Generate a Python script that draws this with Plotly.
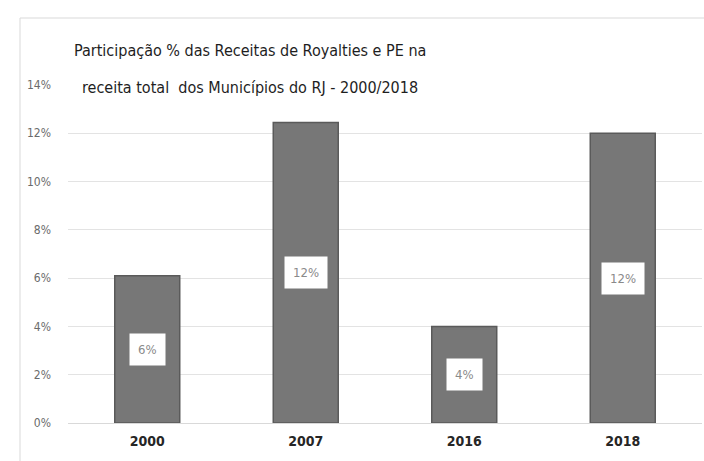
import plotly.graph_objects as go

# Participação % das receitas de royalties e PE - municípios do RJ
anos = ["2000", "2007", "2016", "2018"]
participacao = [6.1, 12.45, 4.0, 12.0]
rotulos = ["6%", "12%", "4%", "12%"]
y_ticks = [0, 2, 4, 6, 8, 10, 12, 14]
y_labels = [f"{t}%" for t in y_ticks]

W, H = 704, 461
L, R, T, B = 68, 2, 85, 38
FONT = "DejaVu Sans Condensed, Liberation Sans Narrow, sans-serif"

pos = list(range(len(anos)))

fig = go.Figure()
fig.add_trace(go.Bar(
    x=pos, y=participacao,
    marker=dict(color="#777777", line=dict(color="#5a5a5a", width=1.5)),
    width=0.41, hoverinfo="skip",
))

# value labels in white boxes
for i, v, lab in zip(pos, participacao, rotulos):
    fig.add_annotation(
        x=i, y=v / 2, text=lab, showarrow=False,
        font=dict(family=FONT, size=13, color="#8a8a8a"),
        bgcolor="white", borderpad=8,
    )

# title, two lines, white box over the top gridline
pw = W - L - R
ph = H - T - B
cx = (250 - L) / pw
for txt, ypix in [("Participação % das Receitas de Royalties e PE na", 50),
                  ("receita total  dos Municípios do RJ - 2000/2018", 87)]:
    fig.add_annotation(
        xref="paper", yref="paper", x=cx, y=1 + (T - ypix) / ph,
        xanchor="center", yanchor="middle", text=txt, showarrow=False,
        font=dict(family=FONT, size=16, color="#1e1e1e"),
        bgcolor="white",
    )

# light chart frame (left + top)
fig.add_shape(type="line", xref="paper", yref="paper",
              x0=(20 - L) / pw, x1=(20 - L) / pw,
              y0=-B / ph, y1=1 + (T - 18) / ph,
              line=dict(color="#d9d9d9", width=1))
fig.add_shape(type="line", xref="paper", yref="paper",
              x0=(20 - L) / pw, x1=1 + R / pw,
              y0=1 + (T - 18) / ph, y1=1 + (T - 18) / ph,
              line=dict(color="#d9d9d9", width=1))

fig.update_layout(
    width=W, height=H,
    margin=dict(l=L, r=R, t=T, b=B),
    paper_bgcolor="white", plot_bgcolor="white",
    showlegend=False,
    xaxis=dict(
        range=[-0.5, len(anos) - 0.5],
        tickvals=pos, ticktext=[f"<b>{a}</b>" for a in anos],
        tickfont=dict(family=FONT, size=14, color="#262626"),
        showgrid=False, showline=True, linecolor="#d9d9d9", ticks="",
        ticklabelstandoff=5,
    ),
    yaxis=dict(
        range=[0, 14], tickvals=y_ticks, ticktext=y_labels,
        tickfont=dict(family=FONT, size=12, color="#6b6b6b"),
        showgrid=True, gridcolor="#e3e3e3", gridwidth=1,
        zeroline=False, ticks="", ticklabelstandoff=16,
    ),
)

# page has a default body margin; drop it so the figure fills the window
fig.write_html("out.html", config={"displayModeBar": False},
               post_script="document.body.style.margin='0';")
